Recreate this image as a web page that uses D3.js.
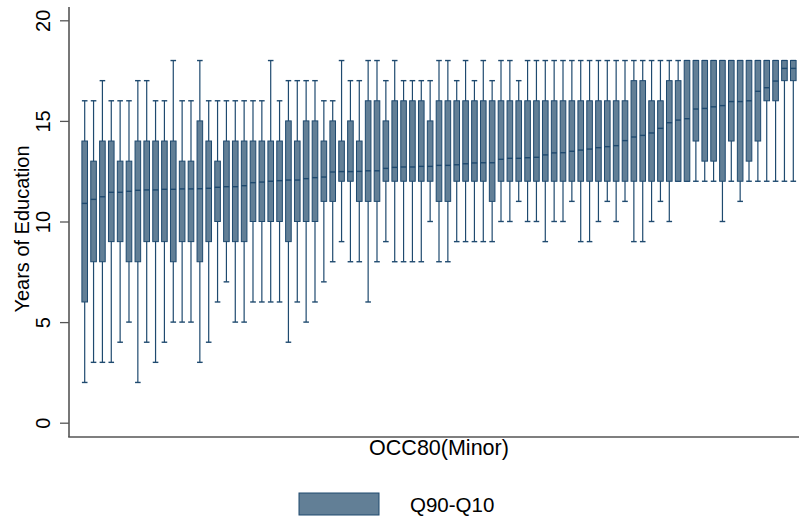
<!DOCTYPE html>
<html><head><meta charset="utf-8">
<script src="https://cdn.jsdelivr.net/npm/d3@7"></script>
<style>
body{margin:0;background:#fff}
svg{display:block}
text{font-family:"Liberation Sans",Arial,Helvetica,sans-serif;fill:#000}
</style>
</head><body>
<svg id="chart" width="799" height="517"></svg>
<script>
// 81 minor occupation groups (OCC80), sorted by centre line
const categories = d3.range(1, 82).map(String);

const whiskerHigh = [
  16,16,17,16,16,16,17,17,16,16,18,16,16,18,16,16,16,16,16,
  16,16,18,16,17,17,17,17,16,16,18,17,17,18,18,17,18,17,17,17,17,
  18,18,17,18,17,18,17,18,18,17,18,18,18,18,18,18,18,18,18,18,
  18,18,18,18,18,18,18,18,18,18,18,18,18,18,18,18,18,18,18,18,18
];
const boxHigh = [
  14,13,14,14,13,13,14,14,14,14,14,13,13,15,14,13,14,14,14,
  14,14,14,14,15,14,15,15,14,15,14,15,14,16,16,15,16,16,16,16,15,
  16,16,16,16,16,16,16,16,16,16,16,16,16,16,16,16,16,16,16,16,
  16,16,17,17,16,16,17,17,18,18,18,18,18,18,18,18,18,18,18,18,18
];
const centre = [
  10.90,11.10,11.23,11.45,11.45,11.50,11.55,11.57,11.57,11.60,11.60,11.62,11.62,11.63,11.65,11.70,11.73,11.73,11.78,
  11.93,11.96,12.00,12.03,12.06,12.06,12.13,12.18,12.21,12.46,12.48,12.48,12.49,12.52,12.52,12.64,12.69,12.71,12.71,12.74,12.74,
  12.79,12.79,12.82,12.87,12.91,12.92,12.92,13.09,13.14,13.14,13.17,13.19,13.31,13.41,13.42,13.49,13.55,13.60,13.67,13.72,
  13.77,14.02,14.20,14.28,14.40,14.63,14.91,15.04,15.11,15.59,15.62,15.70,15.76,15.96,15.96,16.00,16.47,16.65,16.98,17.61,17.61
];
const boxLow = [
  6,8,8,9,9,8,8,9,9,9,8,9,9,8,9,10,9,9,9,
  10,10,10,10,9,10,10,10,11,11,12,12,11,11,11,12,12,12,12,12,12,
  11,11,12,12,12,12,11,12,12,12,12,12,12,12,12,12,12,12,12,12,
  12,12,12,12,12,12,12,12,12,14,13,13,12,14,12,13,14,16,16,17,17
];
const whiskerLow = [
  2,3,3,3,4,5,2,4,3,4,5,5,5,3,4,6,7,5,5,
  6,6,6,6,4,6,5,6,7,8,9,8,8,6,8,9,8,8,8,8,10,
  8,8,9,9,9,9,9,10,10,11,10,10,9,10,10,11,9,9,10,11,
  10,11,9,9,10,11,10,12,12,12,12,12,10,12,11,12,12,12,12,12,12
];
const yTicks = [0, 5, 10, 15, 20];
const yTitle = "Years of Education";
const xTitle = "OCC80(Minor)";
const legendLabel = "Q90-Q10";

const fillCol = "#627f96";
const lineCol = "#1f4a6f";
const axisCol = "#555555";

const rows = categories.map((c, i) => ({
  c, wl: whiskerLow[i], q1: boxLow[i], m: centre[i], q3: boxHigh[i], wh: whiskerHigh[i]
}));

const svg = d3.select("#chart");
const x = d3.scalePoint().domain(categories).range([84.7, 793.3]);
const y = d3.scaleLinear().domain([0, 20]).range([422.7, 20.3]);
const bw = 5.6;

// axes lines
svg.append("line").attr("x1", 69).attr("x2", 69).attr("y1", 7).attr("y2", 437)
  .attr("stroke", axisCol).attr("stroke-width", 1.6);
svg.append("line").attr("x1", 68.2).attr("x2", 799).attr("y1", 437).attr("y2", 437)
  .attr("stroke", axisCol).attr("stroke-width", 1.6);

const yAxis = svg.append("g").attr("transform", "translate(69,0)")
  .call(d3.axisLeft(y).tickValues(yTicks).tickSize(9).tickFormat(d3.format("d")));
yAxis.select(".domain").remove();
yAxis.selectAll(".tick line").attr("stroke", axisCol).attr("stroke-width", 1.3);
yAxis.selectAll(".tick text")
  .attr("transform", "rotate(-90)")
  .attr("x", 0).attr("y", -19).attr("dy", 0)
  .attr("text-anchor", "middle")
  .style("font-size", "20px")
  .style("font-family", '"Liberation Sans",Arial,sans-serif')
  .attr("fill", "#000");

// whiskers
const g = svg.append("g");
g.selectAll("line.wh").data(rows).join("line").attr("class", "wh")
  .attr("x1", d => x(d.c)).attr("x2", d => x(d.c))
  .attr("y1", d => y(d.wl)).attr("y2", d => y(d.wh))
  .attr("stroke", lineCol).attr("stroke-width", 1.2);
g.selectAll("line.cap-hi").data(rows).join("line").attr("class", "cap-hi")
  .attr("x1", d => x(d.c) - bw / 2).attr("x2", d => x(d.c) + bw / 2)
  .attr("y1", d => y(d.wh)).attr("y2", d => y(d.wh))
  .attr("stroke", lineCol).attr("stroke-width", 1.4);
g.selectAll("line.cap-lo").data(rows).join("line").attr("class", "cap-lo")
  .attr("x1", d => x(d.c) - bw / 2).attr("x2", d => x(d.c) + bw / 2)
  .attr("y1", d => y(d.wl)).attr("y2", d => y(d.wl))
  .attr("stroke", lineCol).attr("stroke-width", 1.4);
// boxes
g.selectAll("rect.box").data(rows).join("rect").attr("class", "box")
  .attr("x", d => x(d.c) - bw / 2).attr("width", bw)
  .attr("y", d => y(d.q3)).attr("height", d => y(d.q1) - y(d.q3))
  .attr("fill", fillCol).attr("stroke", lineCol).attr("stroke-width", 1);
// centre lines
g.selectAll("line.med").data(rows).join("line").attr("class", "med")
  .attr("x1", d => x(d.c) - bw / 2).attr("x2", d => x(d.c) + bw / 2)
  .attr("y1", d => y(d.m)).attr("y2", d => y(d.m))
  .attr("stroke", lineCol).attr("stroke-width", 1.4);

// titles
svg.append("text").attr("transform", "translate(28.5,229) rotate(-90)")
  .attr("text-anchor", "middle").style("font-size", "20px").text(yTitle);
svg.append("text").attr("x", 439).attr("y", 455)
  .attr("text-anchor", "middle").style("font-size", "21.5px").text(xTitle);

// legend
svg.append("rect").attr("x", 299).attr("y", 493).attr("width", 80).attr("height", 22)
  .attr("fill", fillCol).attr("stroke", lineCol).attr("stroke-width", 1);
svg.append("text").attr("x", 410).attr("y", 511.5)
  .style("font-size", "20.5px").text(legendLabel);
</script>
</body></html>
